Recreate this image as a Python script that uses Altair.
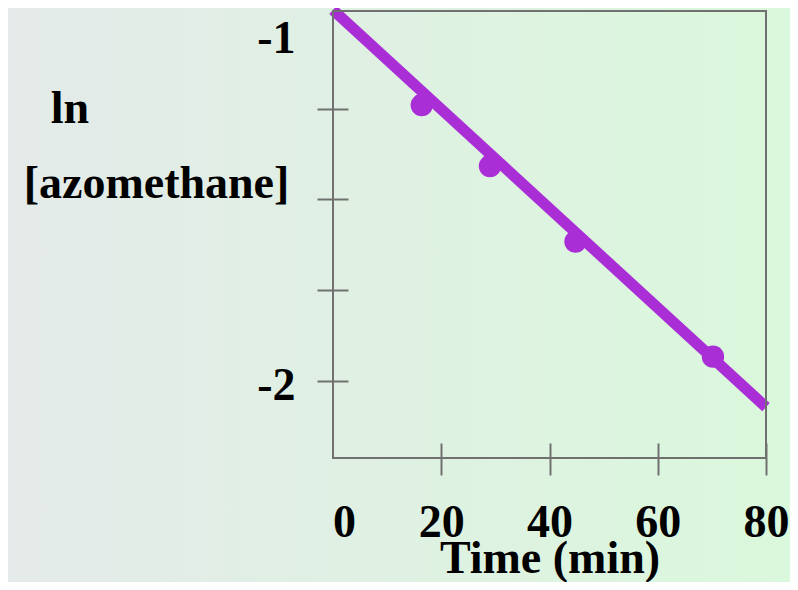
import altair as alt
import pandas as pd

# ---- data ----
time_min = [16.4, 29.0, 44.8, 70.2]
ln_conc = [-1.240, -1.408, -1.616, -1.933]
fit_time = [0, 80]
fit_ln = [-0.978, -2.072]

x_labels = [0, 20, 40, 60, 80]
y_ticks = [-1, -1.25, -1.5, -1.75, -2]
y_labels = {-1: "-1", -2: "-2"}

x_title = "Time (min)"
y_title_line1 = "ln"
y_title_line2 = "[azomethane]"

W, H = 433, 447
PAD = {"left": 325, "top": 3, "right": 24, "bottom": 124}
FONT = "Liberation Serif"
PURPLE = "#aa2ed6"
GREY = "#707070"

pts = pd.DataFrame({"t": time_min, "y": ln_conc})
fit = pd.DataFrame({"t": fit_time, "y": fit_ln})

xscale = alt.Scale(domain=[0, 80], nice=False, zero=False)
yscale = alt.Scale(domain=[-2.212, -0.981], nice=False, zero=False)

label_expr_y = " : ".join(
    [f"datum.value == {k} ? '{v}'" for k, v in y_labels.items()]
) + " : ''"

xaxis = alt.Axis(
    values=x_labels,
    title=x_title,
    zindex=2,
    domain=False,
    grid=False,
    offset=-15,
    tickSize=32,
    tickWidth=2,
    tickColor=GREY,
    tickOpacity={"condition": {"test": "datum.value === 0", "value": 0}, "value": 1},
    labelFont=FONT,
    labelFontSize=46,
    labelFontWeight="bold",
    labelColor="black",
    labelBaseline="alphabetic",
    labelPadding=61,
    labelOffset={"condition": {"test": "datum.value === 0", "value": 11}, "value": 0},
    labelFlush=False,
    labelOverlap=False,
    titleFont=FONT,
    titleFontSize=46,
    titleFontWeight="bold",
    titleColor="black",
    titleBaseline="alphabetic",
    titleY=129,
)

yaxis = alt.Axis(
    values=y_ticks,
    title=y_title_line2,
    zindex=2,
    domain=False,
    grid=False,
    offset=-15,
    tickSize=31,
    tickWidth=2,
    tickColor=GREY,
    tickOpacity={"condition": {"test": "datum.value === -1", "value": 0}, "value": 1},
    labelExpr=label_expr_y,
    labelFont=FONT,
    labelFontSize=46,
    labelFontWeight="bold",
    labelColor="black",
    labelBaseline="middle",
    labelPadding=22,
    labelOffset={"condition": {"test": "datum.value === -1", "value": 21}, "value": 4.5},
    labelFlush=False,
    labelOverlap=False,
    titleFont=FONT,
    titleFontSize=46,
    titleFontWeight="bold",
    titleColor="black",
    titleAngle=0,
    titleAlign="center",
    titleBaseline="alphabetic",
    titleX=-192,
    titleY=186,
)

bg = alt.Chart(pd.DataFrame({"a": [0]})).mark_rect(
    clip=False,
    color=alt.LinearGradient(
        gradient="linear",
        stops=[alt.GradientStop(color="#e4eae9", offset=0),
               alt.GradientStop(color="#daf8dc", offset=1)],
        x1=0, x2=1, y1=0, y2=0,
    ),
).encode(
    x=alt.value(-PAD["left"]),
    x2=alt.value(W + PAD["right"]),
    y=alt.value(-PAD["top"]),
    y2=alt.value(H + PAD["bottom"]),
)

frame = alt.Chart(pd.DataFrame({"a": [0]})).mark_rect(
    fill=None, stroke=GREY, strokeWidth=2, clip=False
).encode(
    x=alt.value(0), x2=alt.value(W), y=alt.value(0), y2=alt.value(H)
)

line = alt.Chart(fit).mark_line(
    color=PURPLE, strokeWidth=11, strokeCap="butt", clip=False
).encode(
    x=alt.X("t:Q", scale=xscale, axis=xaxis),
    y=alt.Y("y:Q", scale=yscale, axis=yaxis),
)

points = alt.Chart(pts).mark_circle(
    color=PURPLE, opacity=1, size=500, clip=False
).encode(
    x=alt.X("t:Q", scale=xscale),
    y=alt.Y("y:Q", scale=yscale),
)

ln_text = alt.Chart(pd.DataFrame({"txt": [y_title_line1]})).mark_text(
    font=FONT, fontSize=46, fontWeight="bold", color="black",
    align="center", baseline="alphabetic",
).encode(
    text="txt:N",
    x=alt.value(70 - 333),
    y=alt.value(112),
)

chart = alt.layer(bg, line, points, frame, ln_text).properties(
    width=W,
    height=H,
    padding=PAD,
    autosize=alt.AutoSizeParams(type="none"),
).configure_view(stroke=None)

chart.save("out.html", embed_options={"renderer": "svg", "actions": False})
